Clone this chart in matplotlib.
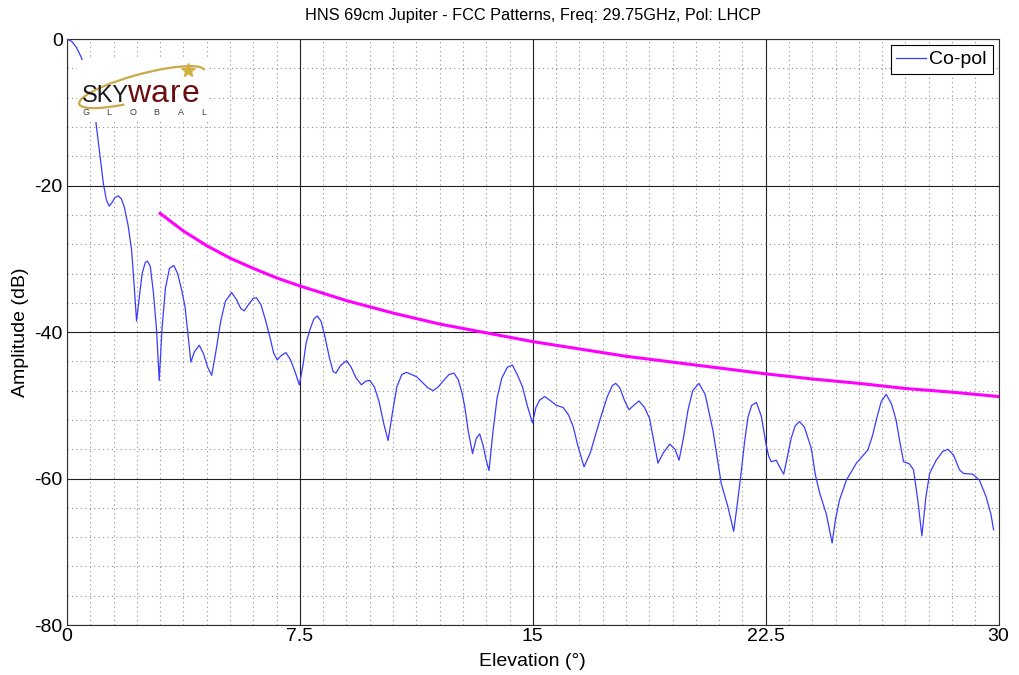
import matplotlib
matplotlib.use("Agg")
import matplotlib.pyplot as plt
from matplotlib.patches import Arc
from matplotlib.ticker import MultipleLocator

plt.rcParams['font.family'] = ['Liberation Sans', 'DejaVu Sans']
plt.rcParams['axes.unicode_minus'] = False

# co-pol pattern (elevation deg, amplitude dB)
elev = [0.0, 0.15, 0.3, 0.45, 0.53, 0.65, 0.8, 0.93, 1.05, 1.17, 1.27, 1.36, 1.45, 1.55,
        1.65, 1.75, 1.85, 1.97, 2.08, 2.16, 2.24, 2.32, 2.42, 2.52, 2.59, 2.68, 2.78, 2.88,
        2.97, 3.06, 3.17, 3.30, 3.44, 3.56, 3.68, 3.80, 3.90, 3.99, 4.10, 4.26, 4.40, 4.53,
        4.66, 4.80, 4.95, 5.10, 5.30, 5.45, 5.60, 5.71, 5.85, 6.00, 6.10, 6.25, 6.40, 6.53,
        6.65, 6.77, 6.90, 7.05, 7.20, 7.35, 7.48, 7.60, 7.70, 7.82, 7.95, 8.06, 8.18, 8.30,
        8.45, 8.57, 8.66, 8.80, 9.00, 9.15, 9.30, 9.48, 9.62, 9.75, 9.90, 10.05, 10.20, 10.34,
        10.48, 10.62, 10.78, 10.93, 11.10, 11.26, 11.45, 11.62, 11.79, 11.95, 12.15, 12.30,
        12.46, 12.60, 12.72, 12.81, 12.92, 13.06, 13.18, 13.29, 13.40, 13.50, 13.59, 13.72,
        13.85, 14.00, 14.18, 14.34, 14.50, 14.67, 14.82, 14.99, 15.10, 15.22, 15.38, 15.55,
        15.76, 15.98, 16.15, 16.30, 16.45, 16.65, 16.85, 17.00, 17.16, 17.40, 17.56, 17.67,
        17.80, 17.95, 18.10, 18.25, 18.42, 18.60, 18.76, 18.90, 19.03, 19.20, 19.41, 19.58,
        19.71, 19.85, 20.00, 20.15, 20.35, 20.55, 20.80, 20.95, 21.07, 21.28, 21.47, 21.60,
        21.72, 21.82, 21.93, 22.05, 22.20, 22.36, 22.52, 22.60, 22.68, 22.84, 22.96, 23.08,
        23.20, 23.32, 23.45, 23.59, 23.75, 23.97, 24.10, 24.24, 24.45, 24.64, 24.75, 24.88,
        25.10, 25.42, 25.79, 25.95, 26.06, 26.22, 26.38, 26.55, 26.70, 26.82, 26.94, 27.13,
        27.26, 27.40, 27.53, 27.66, 27.78, 27.99, 28.20, 28.37, 28.55, 28.74, 28.87, 29.17,
        29.38, 29.60, 29.75, 29.84]
copol = [0.0, -0.3, -1.1, -2.4, -3.3, -5.0, -7.7, -11.3, -15.5, -19.7, -22.0, -22.8, -22.3, -21.6,
         -21.4, -21.8, -23.0, -25.5, -28.8, -33.5, -38.5, -35.5, -32.0, -30.5, -30.3, -31.0, -34.5, -39.5,
         -46.6, -39.5, -34.0, -31.3, -30.9, -32.0, -34.0, -36.5, -40.5, -44.1, -42.7, -41.8, -43.0, -44.8,
         -45.9, -42.5, -38.5, -35.8, -34.6, -35.5, -36.8, -37.1, -36.2, -35.4, -35.3, -36.3, -38.5, -40.6,
         -42.8, -43.8, -43.2, -42.8, -43.8, -45.5, -47.2, -44.5, -41.5, -39.7, -38.2, -37.8, -38.5, -40.5,
         -43.5, -45.4, -45.6, -44.6, -43.9, -44.8, -46.2, -47.2, -46.7, -46.6, -47.5, -49.5, -52.5, -54.8,
         -51.0, -47.5, -45.8, -45.5, -45.8, -46.1, -46.9, -47.6, -48.0, -47.5, -46.5, -45.8,
         -45.6, -46.5, -48.3, -50.2, -53.5, -56.6, -54.5, -53.9, -55.5, -57.5, -58.9, -53.5,
         -49.0, -46.3, -44.8, -44.5, -45.8, -47.5, -50.0, -52.4, -50.3, -49.3, -48.8, -49.3,
         -50.0, -50.3, -51.3, -52.9, -55.5, -58.4, -56.5, -54.3, -52.0, -48.8, -47.3, -47.0,
         -47.6, -49.3, -50.6, -50.0, -49.4, -50.3, -51.8, -55.0, -57.9, -56.5, -55.3, -56.0,
         -57.5, -54.5, -50.6, -48.0, -47.0, -48.5, -53.4, -57.5, -60.7, -63.8, -67.2, -63.0,
         -58.8, -55.0, -51.6, -50.0, -49.6, -51.5, -55.5, -57.0, -57.7, -57.5, -58.5, -59.4,
         -57.0, -54.5, -52.8, -52.2, -53.0, -55.9, -59.5, -62.0, -64.8, -68.8, -65.5, -62.9,
         -60.2, -57.9, -56.1, -54.0, -52.0, -49.5, -48.5, -49.8, -52.0, -55.0, -57.7, -58.0,
         -58.8, -63.0, -67.8, -62.5, -59.3, -57.5, -56.3, -56.0, -56.8, -58.8, -59.3, -59.4,
         -60.2, -62.5, -64.8, -67.0]

# FCC mask line
mask_elev = [3, 3.75, 4.5, 5.25, 6, 6.75, 7.5, 9, 10.5, 12, 13.5, 15, 16.5, 18, 19.5,
             21, 22.5, 24, 25.5, 27, 28.5, 30]
mask_amp = [-23.8, -26.2, -28.2, -29.9, -31.3, -32.6, -33.7, -35.7, -37.4, -38.9, -40.1,
            -41.3, -42.3, -43.3, -44.1, -44.9, -45.7, -46.4, -47.0, -47.7, -48.2, -48.8]

xticks = [0, 7.5, 15, 22.5, 30]
xtick_labels = ['0', '7.5', '15', '22.5', '30']
yticks = [-80, -60, -40, -20, 0]

fig = plt.figure(figsize=(10.2, 6.75), dpi=100)
ax = fig.add_axes([0.0657, 0.074, 0.9133, 0.868])

ax.plot(elev, copol, color='#3b3bff', lw=0.9, label='Co-pol', zorder=3)
ax.plot(mask_elev, mask_amp, color='#ff00ff', lw=2.2, zorder=3)

ax.set_xlim(0, 30)
ax.set_ylim(-80, 0)
ax.set_xticks(xticks)
ax.set_xticklabels(xtick_labels)
ax.set_yticks(yticks)
ax.xaxis.set_minor_locator(MultipleLocator(0.75))
ax.yaxis.set_minor_locator(MultipleLocator(4))
ax.tick_params(which='both', length=0, labelsize=14, colors='black')
ax.tick_params(axis='x', pad=2)
ax.tick_params(axis='y', pad=3)
ax.grid(which='major', color='#202020', lw=0.8, ls='-')
ax.grid(which='minor', color='#909090', lw=0.8, ls=(0, (1, 3)))
ax.set_axisbelow(True)
for s in ax.spines.values():
    s.set_color('#303030')
    s.set_linewidth(0.8)

ax.set_title('HNS 69cm Jupiter - FCC Patterns, Freq: 29.75GHz, Pol: LHCP', fontsize=11.7, pad=14)
ax.set_xlabel('Elevation (°)', fontsize=14, labelpad=6)
ax.set_ylabel('Amplitude (dB)', fontsize=14, labelpad=4)

leg = ax.legend(loc='upper right', fontsize=14, fancybox=False, framealpha=1,
                edgecolor='black', handlelength=1.5, handletextpad=0.2,
                borderpad=0.3, borderaxespad=0.3)
leg.get_frame().set_linewidth(0.8)

# logo box (pixel-like coords, y pointing down)
lax = fig.add_axes([0.0755, 0.819, 0.128, 0.092])
lax.set_xlim(0, 131)
lax.set_ylim(62, 0)
lax.axis('off')
lax.add_patch(plt.Rectangle((0, 0), 131, 62, color='white', zorder=0))
lax.add_patch(Arc((65, 27), 130, 26, angle=-15, theta1=150, theta2=360,
                  color='#c9a94a', lw=1.6, zorder=1))
lax.plot([111], [10], marker='*', color='#d4b040', ms=10, zorder=2)
lax.text(5, 42, 'SKY', fontsize=17, color='#1a1a1a', ha='left', va='baseline', zorder=3)
for ch, lx in zip('ware', [50, 74, 93, 105]):
    lax.text(lx, 42, ch, fontsize=23, color='#6b0d0d', ha='left', va='baseline', zorder=3)
for ch, lx in zip('GLOBAL', [9, 32, 56, 80, 104, 127]):
    lax.text(lx, 52.5, ch, fontsize=6.5, color='#404040', ha='center', va='center', zorder=3)

fig.savefig('out.png', dpi=100)
